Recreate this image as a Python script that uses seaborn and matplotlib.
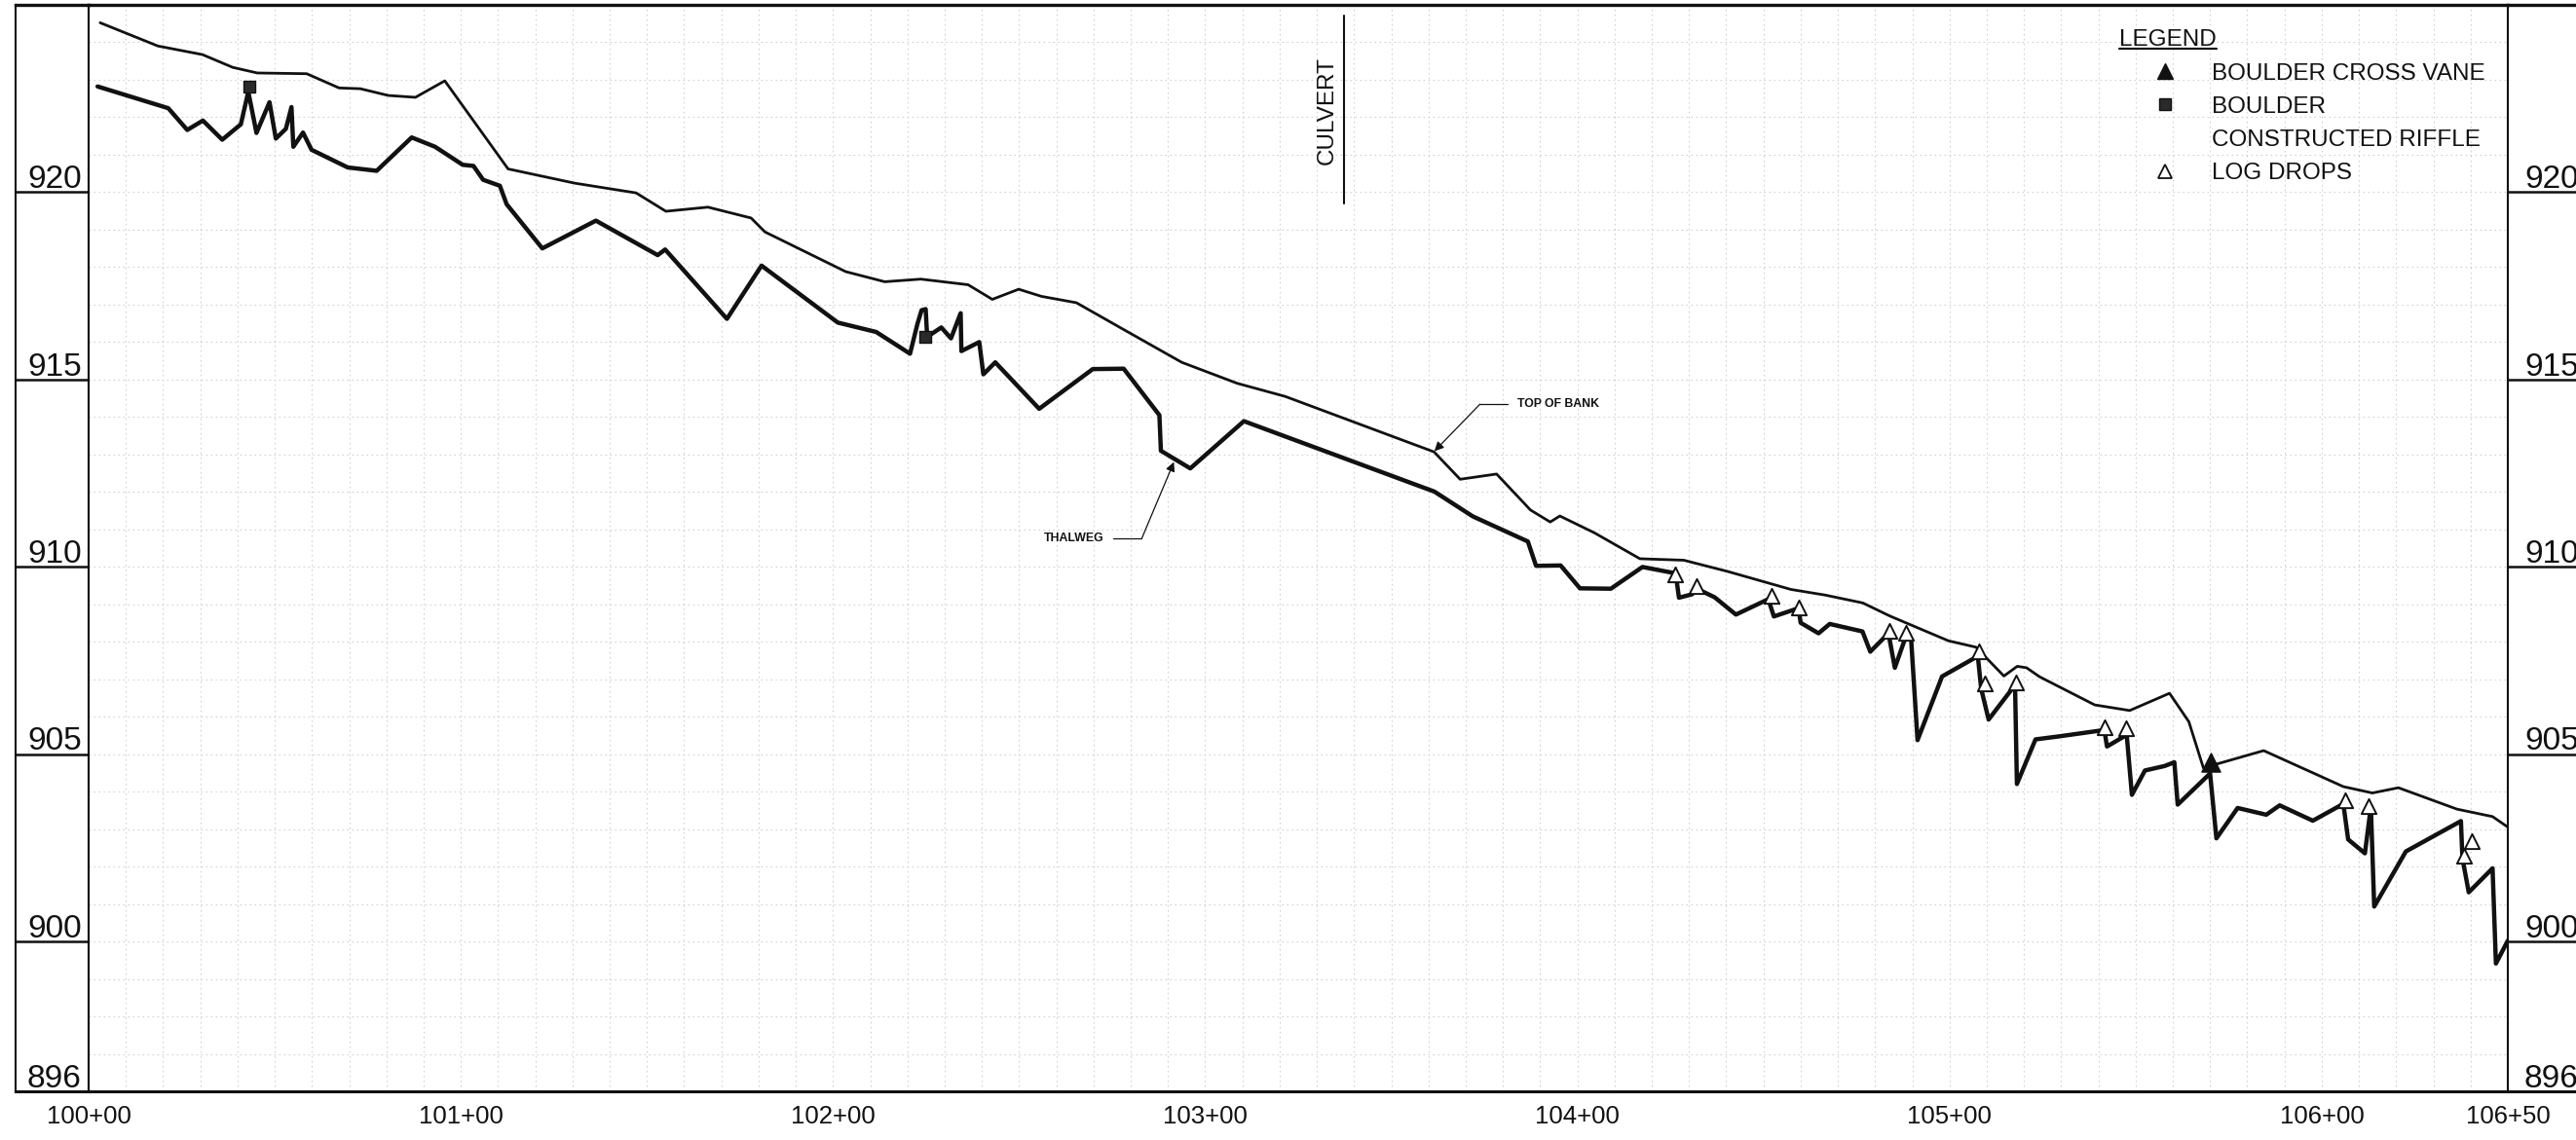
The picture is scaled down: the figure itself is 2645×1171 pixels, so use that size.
import matplotlib
matplotlib.use("Agg")
import matplotlib.pyplot as plt
import matplotlib.transforms as mtransforms
from matplotlib.lines import Line2D
import pandas as pd
import seaborn as sns

# stationing in feet (100+00 = 10000 ft), elevations in feet
bank_station = [10003.1, 10018.6, 10030.6, 10038.7, 10045.3, 10058.6, 10067.3, 10073.0, 10080.5, 10087.8,
                10095.7, 10112.7, 10130.6, 10147.1, 10155.1, 10166.4, 10178.0, 10181.7, 10203.4, 10213.9,
                10223.6, 10236.3, 10242.8, 10249.9, 10256.0, 10265.4, 10278.0, 10293.7, 10308.6, 10321.5,
                10361.5, 10368.5, 10378.3, 10387.4, 10392.7, 10395.3, 10404.6, 10416.8, 10428.6, 10440.4,
                10457.4, 10466.6, 10476.7, 10484.0, 10499.7, 10507.1, 10514.6, 10518.2, 10520.7, 10524.2,
                10539.0, 10548.4, 10559.1, 10564.3, 10568.2, 10584.4, 10605.8, 10613.6, 10620.6, 10636.3,
                10645.9, 10650.0]
bank_elev = [924.51, 923.89, 923.66, 923.32, 923.17, 923.15, 922.77, 922.75, 922.57, 922.52,
             922.96, 920.61, 920.23, 919.97, 919.48, 919.59, 919.30, 918.93, 917.87, 917.60,
             917.67, 917.52, 917.13, 917.40, 917.21, 917.04, 916.33, 915.45, 914.89, 914.54,
             913.06, 912.33, 912.47, 911.51, 911.19, 911.35, 910.90, 910.21, 910.17, 909.87,
             909.39, 909.24, 909.03, 908.68, 908.02, 907.85, 907.08, 907.34, 907.30, 907.06,
             906.31, 906.16, 906.62, 905.86, 904.63, 905.09, 904.13, 903.96, 904.10, 903.53,
             903.33, 903.05]

thalweg_station = [10002.4, 10021.4, 10026.5, 10030.7, 10035.9, 10040.9, 10042.9, 10045.1, 10048.6, 10050.3,
                   10053.0, 10054.5, 10055.0, 10057.6, 10059.9, 10069.6, 10077.4, 10086.8, 10093.1, 10100.5,
                   10103.4, 10106.0, 10110.5, 10112.3, 10121.9, 10136.3, 10152.9, 10154.9, 10171.5, 10180.8,
                   10201.3, 10211.6, 10220.7, 10222.7, 10223.8, 10224.9, 10225.3, 10229.1, 10231.7, 10234.3,
                   10234.5, 10239.3, 10240.4, 10243.6, 10255.4, 10269.8, 10278.1, 10287.7, 10288.1, 10296.0,
                   10310.4, 10361.6, 10371.9, 10386.7, 10388.9, 10395.5, 10400.7, 10409.0, 10417.5, 10426.4,
                   10427.3, 10430.8, 10432.1, 10436.9, 10442.6, 10451.3, 10452.8, 10457.9, 10459.4, 10460.0,
                   10464.8, 10467.8, 10476.6, 10478.7, 10483.6, 10485.3, 10488.2, 10489.7, 10491.4, 10498.0,
                   10507.6, 10508.5, 10510.5, 10517.6, 10518.1, 10523.1, 10529.4, 10541.6, 10542.3, 10547.6,
                   10549.0, 10552.5, 10557.8, 10560.4, 10561.3, 10570.0, 10571.7, 10577.4, 10585.1, 10588.7,
                   10597.6, 10605.8, 10607.1, 10611.6, 10613.2, 10614.1, 10622.6, 10637.4, 10637.8, 10639.5,
                   10645.9, 10646.8, 10650.0]
thalweg_elev = [922.81, 922.23, 921.65, 921.90, 921.39, 921.80, 922.67, 921.57, 922.39, 921.42,
                921.68, 922.26, 921.20, 921.58, 921.12, 920.65, 920.56, 921.45, 921.20, 920.72,
                920.69, 920.32, 920.16, 919.67, 918.49, 919.23, 918.31, 918.46, 916.61, 918.03,
                916.51, 916.26, 915.68, 916.48, 916.84, 916.87, 916.13, 916.38, 916.09, 916.76,
                915.75, 915.99, 915.13, 915.45, 914.21, 915.27, 915.28, 914.04, 913.09, 912.62,
                913.88, 912.00, 911.34, 910.67, 910.02, 910.03, 909.42, 909.41, 909.99, 909.82,
                909.17, 909.26, 909.41, 909.18, 908.72, 909.13, 908.67, 908.84, 908.89, 908.50,
                908.22, 908.47, 908.27, 907.73, 908.22, 907.30, 908.12, 908.03, 905.37, 907.07,
                907.61, 906.74, 905.92, 906.84, 904.20, 905.39, 905.47, 905.64, 905.20, 905.51,
                903.91, 904.56, 904.68, 904.78, 903.65, 904.48, 902.75, 903.56, 903.38, 903.63,
                903.22, 903.67, 902.72, 902.35, 903.59, 900.93, 902.40, 903.21, 902.22, 901.31,
                901.95, 899.41, 900.02]

boulder_station = [10043.2, 10224.7]
boulder_elev = [922.80, 916.13]
vane_station = [10570.2]
vane_elev = [904.79]
logdrop_station = [10426.3, 10432.1, 10452.2, 10459.4, 10483.9, 10488.2, 10508.0, 10509.4,
                   10517.9, 10541.6, 10547.3, 10606.2, 10612.7, 10638.3, 10640.4]
logdrop_elev = [909.78, 909.48, 909.21, 908.90, 908.28, 908.23, 907.74, 906.88,
                906.91, 905.71, 905.68, 903.76, 903.61, 902.29, 902.67]

station_ticks = [10000, 10100, 10200, 10300, 10400, 10500, 10600, 10650]
station_labels = ["100+00", "101+00", "102+00", "103+00", "104+00", "105+00", "106+00", "106+50"]
elev_labels = [920, 915, 910, 905, 900, 896]
legend_labels = ["BOULDER CROSS VANE", "BOULDER", "CONSTRUCTED RIFFLE", "LOG DROPS"]

INK = "#111111"

sns.set_theme(style="white")
plt.rcParams["font.family"] = ["Liberation Sans", "DejaVu Sans"]

W, H = 2645, 1171
fig = plt.figure(figsize=(W / 100, H / 100), dpi=100)
fig.patch.set_facecolor("white")

bottom = 1 - 1121 / H
height = (1121 - 4.5) / H
axl = fig.add_axes([16 / W, bottom, (91 - 16) / W, height])
axr = fig.add_axes([2575 / W, bottom, 130 / W, height])
ax = fig.add_axes([91 / W, bottom, (2575 - 91) / W, height])

for a in (ax, axl, axr):
    a.set_ylim(896, 925)
    a.set_facecolor("none")
    for side, lw in (("top", 2.4), ("bottom", 2.2), ("left", 1.5), ("right", 1.5)):
        a.spines[side].set_linewidth(lw)
        a.spines[side].set_color(INK)
axr.spines["right"].set_visible(False)
axr.spines["left"].set_visible(False)

# main profile
ax.set_xlim(10000, 10650)
bank = pd.DataFrame({"station": bank_station, "elev": bank_elev})
thalweg = pd.DataFrame({"station": thalweg_station, "elev": thalweg_elev})
sns.lineplot(data=bank, x="station", y="elev", sort=False, estimator=None,
             color=INK, lw=2.0, ax=ax, zorder=3)
sns.lineplot(data=thalweg, x="station", y="elev", sort=False, estimator=None,
             color=INK, lw=3.2, ax=ax, zorder=3)

sns.scatterplot(x=logdrop_station, y=logdrop_elev, marker="^", s=120, color="white",
                edgecolor=INK, linewidth=1.4, ax=ax, zorder=5)
sns.scatterplot(x=boulder_station, y=boulder_elev, marker="s", s=85, color="#2a2a2a",
                edgecolor=INK, linewidth=1, ax=ax, zorder=5)
sns.scatterplot(x=vane_station, y=vane_elev, marker="^", s=190, color=INK,
                edgecolor=INK, linewidth=1, ax=ax, zorder=5)

# graph-paper grid
ax.set_xticks(station_ticks, labels=station_labels)
ax.set_xticks(range(10000, 10651, 10), minor=True)
ax.set_yticks([])
ax.set_yticks(range(896, 926), minor=True)
ax.grid(which="both", color="#d2d2d2", lw=0.8, ls=(0, (1.5, 3)))
ax.set_axisbelow(True)
ax.tick_params(axis="x", which="both", length=0, pad=10, labelsize=18.5, colors=INK)
ax.tick_params(axis="y", which="both", length=0, labelleft=False)
ax.set_xlabel("")
ax.set_ylabel("")

# elevation columns on both sides
for a, xpos, ha in ((axl, 0.53, "center"), (axr, 0.13, "left")):
    a.set_xlim(0, 1)
    a.set_xticks([])
    a.set_yticks([])
    tr = mtransforms.offset_copy(mtransforms.blended_transform_factory(a.transAxes, a.transData),
                                 fig=fig, y=4, units="dots")
    for v in elev_labels:
        if v != 896:
            a.axhline(v, color=INK, lw=1.8)
        a.text(xpos, v, str(v), transform=tr, ha=ha, va="baseline", fontsize=24, color=INK)

# annotations
ax.plot([10337.4, 10337.4], [919.7, 924.7], color=INK, lw=1.5)
ax.text(10332.7, 922.16, "CULVERT", rotation=90, ha="center", va="center",
        fontsize=17.5, color=INK)

ax.text(10383.8, 914.33, "TOP OF BANK", ha="left", va="center",
        fontsize=8.8, fontweight="bold", color=INK)
ax.plot([10373.8, 10381.2], [914.33, 914.33], color=INK, lw=0.9)
ax.annotate("", xy=(10361.6, 913.08), xytext=(10373.8, 914.33),
            arrowprops=dict(arrowstyle="-|>", color=INK, lw=0.9, shrinkA=0, shrinkB=0,
                            mutation_scale=14))

ax.text(10272.8, 910.75, "THALWEG", ha="right", va="center",
        fontsize=8.8, fontweight="bold", color=INK)
ax.plot([10275.4, 10283.0], [910.76, 910.76], color=INK, lw=0.9)
ax.annotate("", xy=(10291.6, 912.79), xytext=(10283.0, 910.76),
            arrowprops=dict(arrowstyle="-|>", color=INK, lw=0.9, shrinkA=0, shrinkB=0,
                            mutation_scale=14))

# legend
handles = [
    Line2D([], [], ls="none", marker="^", ms=12, mfc=INK, mec=INK),
    Line2D([], [], ls="none", marker="s", ms=9, mfc="#2a2a2a", mec=INK),
    Line2D([], [], ls="none"),
    Line2D([], [], ls="none", marker="^", ms=10, mfc="white", mec=INK, mew=1.3),
]
leg = ax.legend(handles, legend_labels, title="LEGEND", loc="upper left",
                bbox_to_anchor=(0.8394, 0.9768), frameon=False, alignment="left",
                prop={"size": 17.5}, title_fontproperties={"size": 17.5},
                handlelength=3.89, handletextpad=0.0, labelspacing=0.5,
                borderpad=0, borderaxespad=0)
leg.set_zorder(10)
for t in leg.get_texts():
    t.set_color(INK)
leg.get_title().set_color(INK)

fig.canvas.draw()
bb = leg.get_title().get_window_extent()
fig.add_artist(Line2D([bb.x0, bb.x1], [bb.y0 + 2, bb.y0 + 2], color=INK, lw=1.6,
                      transform=mtransforms.IdentityTransform()))

fig.savefig("out.png", dpi=100)
